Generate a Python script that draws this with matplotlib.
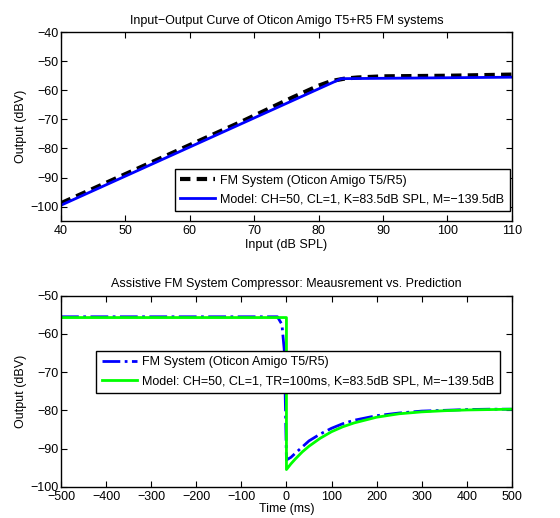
import matplotlib
matplotlib.use("Agg")
import matplotlib.pyplot as plt

plt.rcParams['font.family'] = ['Liberation Sans', 'DejaVu Sans']
plt.rcParams['axes.unicode_minus'] = True

# top panel: input-output curve
io_in_meas = [40, 42, 44, 46, 48, 50, 52, 54, 56, 58, 60, 62, 64, 66, 68, 70, 72, 74, 76, 78, 80, 82, 84, 86, 88, 90, 95, 100, 105, 110]
io_out_meas = [-98.8, -96.8, -94.8, -92.8, -90.8, -88.8, -86.8, -84.8, -82.8, -80.8, -78.8, -76.8, -74.8, -72.8, -70.8, -68.7, -66.6, -64.5, -62.4, -60.4, -58.4, -56.8, -56.0, -55.6, -55.4, -55.2, -55.1, -55.0, -54.8, -54.6]
io_in_model = [40, 83.5, 110]
io_out_model = [-99.5, -56.0, -55.5]

# bottom panel: step response
t_meas = [-500, -20, -10, -5, -2, 0, 10, 20, 35, 50, 75, 100, 125, 150, 200, 250, 300, 350, 400, 450, 500]
y_meas = [-55.5, -55.5, -57.5, -64.0, -80.0, -93.0, -92.3, -91.2, -89.6, -88.0, -86.2, -84.7, -83.5, -82.6, -81.4, -80.7, -80.2, -80.0, -79.8, -79.7, -79.7]
t_model = [-500, 0, 0, 10, 20, 35, 50, 75, 100, 125, 150, 200, 250, 300, 350, 400, 450, 500]
y_model = [-55.7, -55.7, -95.5, -94.0, -92.7, -90.9, -89.4, -87.3, -85.6, -84.3, -83.3, -81.8, -80.9, -80.4, -80.1, -79.9, -79.8, -79.7]

fig = plt.figure(figsize=(5.6, 5.18), dpi=100)

ax1 = fig.add_axes([0.109, 0.573, 0.805, 0.365])
ax1.plot(io_in_meas, io_out_meas, color='black', linestyle='--', linewidth=3, dashes=(2.5, 1.5),
         label='FM System (Oticon Amigo T5/R5)')
ax1.plot(io_in_model, io_out_model, color='blue', linewidth=2,
         label='Model: CH=50, CL=1, K=83.5dB SPL, M=\u2212139.5dB')
ax1.set_xlim(40, 110)
ax1.set_ylim(-105, -40)
ax1.set_xticks(range(40, 111, 10))
ax1.set_yticks(range(-100, -39, 10))
ax1.set_xlabel('Input (dB SPL)', fontsize=9, labelpad=1)
ax1.set_ylabel('Output (dBV)', fontsize=9, labelpad=2)
ax1.set_title('Input\u2212Output Curve of Oticon Amigo T5+R5 FM systems', fontsize=9, pad=6)
leg1 = ax1.legend(loc='lower right', bbox_to_anchor=(0.996, 0.053), borderaxespad=0, fontsize=9,
                  fancybox=False, framealpha=1, handlelength=2.8, handletextpad=0.4,
                  borderpad=0.45, labelspacing=0.55)
leg1.get_frame().set_edgecolor('black')

ax2 = fig.add_axes([0.109, 0.0604, 0.805, 0.3686])
ax2.plot(t_meas, y_meas, color='blue', linestyle='-.', linewidth=2,
         label='FM System (Oticon Amigo T5/R5)')
ax2.plot(t_model, y_model, color='#00ff00', linewidth=2,
         label='Model: CH=50, CL=1, TR=100ms, K=83.5dB SPL, M=\u2212139.5dB')
ax2.set_xlim(-500, 500)
ax2.set_ylim(-100, -50)
ax2.set_xticks(range(-500, 501, 100))
ax2.set_yticks(range(-100, -49, 10))
ax2.set_xlabel('Time (ms)', fontsize=9, labelpad=0)
ax2.set_ylabel('Output (dBV)', fontsize=9, labelpad=2)
ax2.set_title('Assistive FM System Compressor: Meausrement vs. Prediction', fontsize=9, pad=6)
leg2 = ax2.legend(loc='upper left', bbox_to_anchor=(0.078, 0.713), borderaxespad=0, fontsize=9,
                  fancybox=False, framealpha=1, handlelength=2.8, handletextpad=0.4,
                  borderpad=0.45, labelspacing=0.55)
leg2.get_frame().set_edgecolor('black')

for ax in (ax1, ax2):
    ax.tick_params(direction='in', top=True, right=True, labelsize=9, length=4)
    ax.tick_params(axis='x', pad=3)
    ax.tick_params(axis='y', pad=2)
    for s in ax.spines.values():
        s.set_linewidth(1.0)

fig.savefig('out.png', dpi=100)
